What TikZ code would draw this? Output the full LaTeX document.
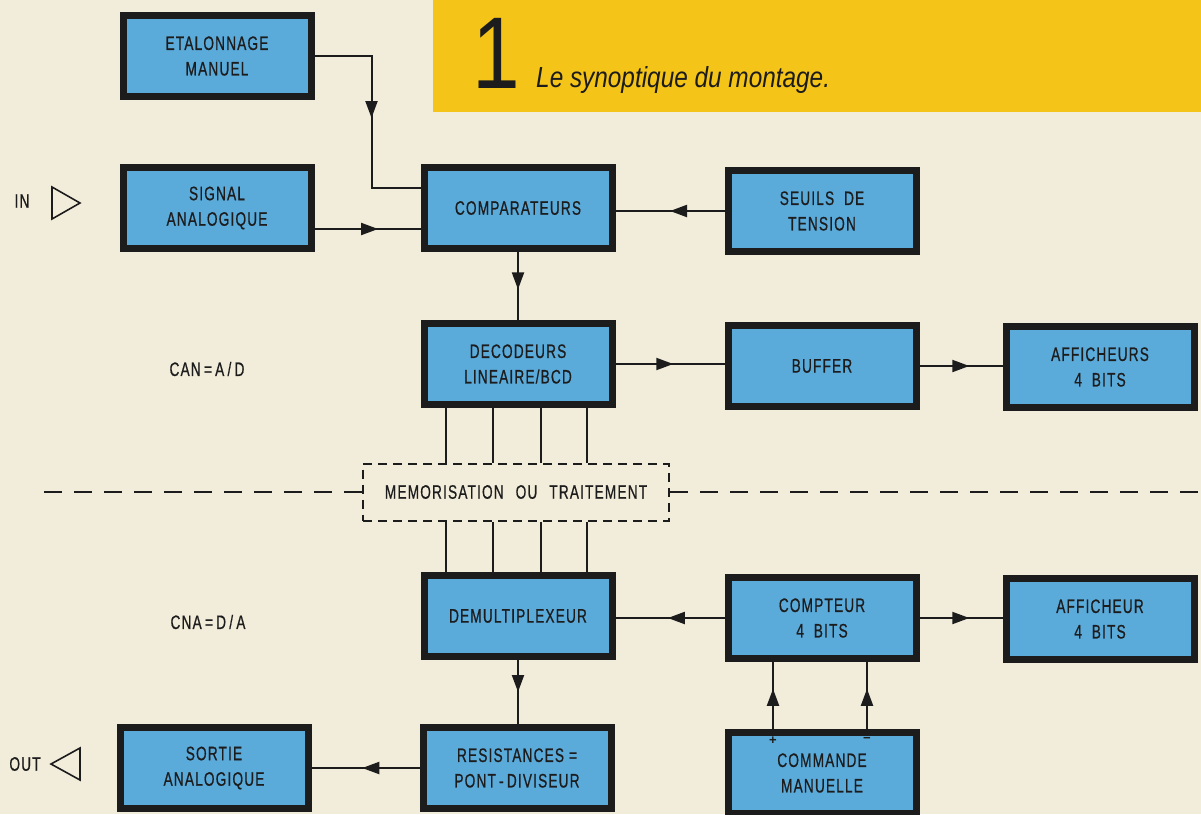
\documentclass[tikz,border=0pt]{standalone}
\usepackage{fontspec}
\setmainfont{Liberation Sans}
\newfontfamily\stencil[FakeStretch=0.70,LetterSpace=6,FakeBold=0.6]{Liberation Sans}
\newfontfamily\narrowsans[FakeStretch=0.84]{Liberation Sans}
\usepackage{tikz}
\usetikzlibrary{arrows.meta,positioning,calc,decorations.markings}
\definecolor{paper}{HTML}{F2ECDA}
\definecolor{bluebox}{HTML}{5AAADA}
\definecolor{banner}{HTML}{F5C418}
\definecolor{ink}{HTML}{1C1C1C}
\tikzset{
  blk/.style={draw=ink,fill=bluebox,line width=7pt,minimum width=188pt,minimum height=81pt,
              inner sep=0pt,align=center,text=ink,font=\stencil\fontsize{19.5}{25.5}\selectfont},
  flow/.style={draw=ink,line width=2pt,postaction={decorate},
               decoration={markings,mark=at position #1 with {\arrow{Triangle[length=17pt,width=12pt]}}}},
  flow/.default=0.55,
  wire/.style={draw=ink,line width=2pt},
  sep/.style={draw=ink,line width=2pt,dash pattern=on 18pt off 12pt},
  lbl/.style={text=ink,inner sep=1pt,font=\stencil\fontsize{19.5}{22}\selectfont},
  sgn/.style={text=ink,inner sep=0pt,font=\bfseries\fontsize{13}{13}\selectfont},
  pin/.style={draw=ink,line width=1.6pt,line join=miter}
}
\begin{document}
\begin{tikzpicture}[x=1pt,y=-1pt]
  \fill[paper] (0,0) rectangle (1201,814);
  \useasboundingbox (0,0) rectangle (1201,814);
  % bandeau jaune de la figure
  \fill[banner] (433,0) rectangle (1201,112);
  \node[anchor=base west,inner sep=0pt,text=ink,font=\narrowsans\fontsize{102}{102}\selectfont] (num) at (472,88) {1};
  \node[anchor=base west,inner sep=0pt,text=ink,font=\narrowsans\itshape\fontsize{29}{32}\selectfont] (cap) at (536,87) {Le synoptique du montage.};

  % partie analogique -> numerique
  \node[blk] (etal) at (217,56) {ETALONNAGE\\MANUEL};
  \node[blk] (signal) at (217,208) {SIGNAL\\ANALOGIQUE};
  \node[blk] (comp) at (518,208) {COMPARATEURS};
  \node[blk] (seuils) at (822,211) {SEUILS\ \ DE\\TENSION};
  \node[blk] (decod) at (518,364) {DECODEURS\\LINEAIRE/BCD};
  \node[blk] (buffer) at (822,366) {BUFFER};
  \node[blk] (affs) at (1100,367) {AFFICHEURS\\4\ \ BITS};
  \node[lbl] (in) at (22,201) {IN};
  \draw[pin] (52,187) -- (52,219) -- (80,203) -- cycle;
  \node[lbl] (can) at (207,369) {CAN\,=\,A\,/\,D};

  \draw[flow=0.5] (etal.east) -- ++(57,0) |- ([yshift=20pt]comp.west);
  \draw[flow=0.6] ([yshift=-21pt]signal.east) -- ([yshift=-21pt]signal.east -| comp.west);
  \draw[flow=0.5] (seuils.west) -- (seuils.west -| comp.east);
  \draw[flow=0.55] (comp.south) -- (comp.south |- decod.north);
  \draw[flow=0.53] (decod.east) -- (decod.east -| buffer.west);
  \draw[flow=0.6] (buffer.east) -- (buffer.east -| affs.west);

  % memorisation et separation A/D -- D/A
  \node[lbl,draw=ink,line width=2pt,dash pattern=on 9pt off 6pt,minimum width=306pt,minimum height=57pt]
    (memo) at (516,492) {MEMORISATION\hspace{12pt}OU\hspace{12pt}TRAITEMENT};
  \coordinate (sepL) at (33,492);
  \coordinate (sepR) at (1201,492);
  \draw[sep] (memo.west) -- (sepL);
  \draw[sep] (memo.east) -- (sepR);

  % partie numerique -> analogique
  \node[blk] (demux) at (518,616) {DEMULTIPLEXEUR};
  \node[blk] (compteur) at (822,618) {COMPTEUR\\4\ \ BITS};
  \node[blk] (aff) at (1100,619) {AFFICHEUR\\4\ \ BITS};
  \node[blk] (sortie) at (214,768) {SORTIE\\ANALOGIQUE};
  \node[blk] (resist) at (517,768) {RESISTANCES =\\PONT\,-\,DIVISEUR};
  \node[blk] (commande) at (822,773) {COMMANDE\\MANUELLE};
  \node[sgn] (plus) at (773,741) {+};
  \node[sgn] (moins) at (867,740) {−};
  \node[lbl] (out) at (25,764) {OUT};
  \draw[pin] (80,748) -- (80,780) -- (51,764) -- cycle;
  \node[lbl] (cna) at (208,622) {CNA\,=\,D\,/\,A};

  \foreach \dx in {-72,-25,23,69} {
    \draw[wire] ([xshift=\dx pt]decod.south) -- ([xshift=\dx pt]decod.south |- memo.north);
    \draw[wire] ([xshift=\dx pt]decod.south |- memo.south) -- ([xshift=\dx pt]decod.south |- demux.north);
  }
  \draw[flow=0.52] (compteur.west) -- (compteur.west -| demux.east);
  \draw[flow=0.6] (compteur.east) -- (compteur.east -| aff.west);
  \draw[flow=0.5] (demux.south) -- (demux.south |- resist.north);
  \draw[flow=0.53] (resist.west) -- (resist.west -| sortie.east);
  \draw[flow=0.6] ([xshift=-49pt]commande.north) -- ([xshift=-49pt]commande.north |- compteur.south);
  \draw[flow=0.6] ([xshift=45pt]commande.north) -- ([xshift=45pt]commande.north |- compteur.south);
\end{tikzpicture}
\end{document}
